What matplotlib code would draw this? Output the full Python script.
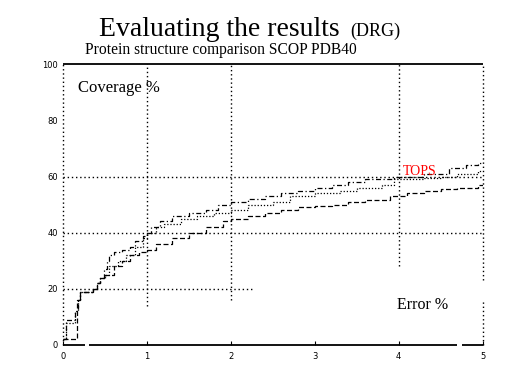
import matplotlib
matplotlib.use('Agg')
import matplotlib.pyplot as plt
import numpy as np

# error % (x) and coverage % (y) for the three methods
x_top = [0, 0.03, 0.14, 0.17, 0.2, 0.36, 0.4, 0.44, 0.48, 0.52, 0.55, 0.6, 0.7, 0.8, 0.85, 0.95, 1.0,
         1.05, 1.15, 1.3, 1.5, 1.7, 1.85, 2.0, 2.2, 2.4, 2.6, 2.8, 3.0, 3.2, 3.4, 3.6, 3.95, 4.3, 4.6, 4.8, 4.95, 5.0]
y_top = [2, 9, 12, 16, 19, 20, 22, 24, 27, 30, 32, 33, 34, 35, 37, 39, 40,
         42, 44, 46, 47, 48, 50, 51, 52, 53, 54, 55, 56, 57, 58, 59, 60, 61, 63, 64, 65, 65]

x_mid = [0, 0.03, 0.14, 0.17, 0.2, 0.36, 0.4, 0.44, 0.5, 0.55, 0.65, 0.75, 0.85, 0.95, 1.0,
         1.1, 1.2, 1.4, 1.6, 1.8, 2.0, 2.2, 2.5, 2.7, 3.0, 3.3, 3.5, 3.8, 3.95, 4.3, 4.5, 4.7, 4.95, 5.0]
y_mid = [2, 8, 12, 16, 19, 20, 22, 24, 25, 28, 30, 32, 35, 38, 40,
         42, 43, 45, 46, 47, 48, 50, 51, 53, 54, 55, 56, 57, 59, 59.5, 60, 61, 62, 62]

x_bot = [0, 0.16, 0.2, 0.36, 0.4, 0.44, 0.5, 0.6, 0.7, 0.8, 0.9, 1.0,
         1.1, 1.3, 1.5, 1.7, 1.9, 2.0, 2.2, 2.4, 2.6, 2.8, 3.0, 3.2, 3.4, 3.6, 3.9, 4.1, 4.3, 4.5, 4.7, 4.95, 5.0]
y_bot = [2, 16, 19, 20, 22, 24, 25, 28, 30, 32, 33, 34,
         36, 38, 40, 42, 44, 45, 46, 47, 48, 49, 49.5, 50, 51, 51.5, 53, 54, 55, 55.5, 56, 57, 57]

xticks = [0, 1, 2, 3, 4, 5]
yticks = [0, 20, 40, 60, 80, 100]

fig = plt.figure(figsize=(5.12, 3.84), dpi=100)
ax = fig.add_axes([0.1236, 0.1016, 0.8188, 0.731])

dot = (0, (1, 2))
ax.plot(x_top, y_top, color='k', lw=0.9, ls=(0, (4, 2, 1, 2)), drawstyle='steps-post')
ax.plot(x_mid, y_mid, color='k', lw=0.9, ls=(0, (1, 1.5)), drawstyle='steps-post')
ax.plot(x_bot, y_bot, color='k', lw=0.9, ls=(0, (4, 2)), drawstyle='steps-post')

# grid (partly hidden in the original slide)
ax.hlines([40, 60], 0, 5, colors='k', linestyles=dot, lw=1)
ax.hlines(20, 0, 2.28, colors='k', linestyles=dot, lw=1)
ax.vlines(1, 14, 100, colors='k', linestyles=dot, lw=1)
ax.vlines(2, 16, 100, colors='k', linestyles=dot, lw=1)
ax.vlines(4, 28, 100, colors='k', linestyles=dot, lw=1)
ax.vlines(0, 0, 100, colors='k', linestyles=dot, lw=1, clip_on=False)
ax.vlines(5, 23, 100, colors='k', linestyles=dot, lw=1, clip_on=False)
ax.vlines(5, 0, 16, colors='k', linestyles=dot, lw=1, clip_on=False)
ax.hlines(100, 0, 5, colors='k', lw=1.3, clip_on=False)
ax.hlines(0, 0, 0.26, colors='k', lw=1.3, clip_on=False)
ax.hlines(0, 0.31, 4.69, colors='k', lw=1.3, clip_on=False)
ax.hlines(0, 4.75, 5, colors='k', lw=1.3, clip_on=False)

for s in ax.spines.values():
    s.set_visible(False)
ax.set_xlim(0, 5)
ax.set_ylim(0, 100)
ax.set_xticks(xticks)
ax.set_xticklabels([str(t) for t in xticks])
ax.set_yticks(yticks)
ax.set_yticklabels([str(t) for t in yticks])
ax.tick_params(axis='x', direction='in', length=3, labelsize=6, pad=5)
ax.tick_params(axis='y', length=0, labelsize=6, pad=4)

ax.text(0.175, 90.2, 'Coverage %', family='Liberation Serif', fontsize=12)
ax.text(3.98, 12.7, 'Error %', family='Liberation Serif', fontsize=11.5)
ax.text(4.05, 60.6, 'TOPS', family='Liberation Serif', fontsize=10, color='red')

fig.text(0.194, 0.906, 'Evaluating the results', family='Liberation Serif', fontsize=20)
fig.text(0.684, 0.906, '(DRG)', family='Liberation Serif', fontsize=13)
fig.text(0.166, 0.859, 'Protein structure comparison SCOP PDB40', family='Liberation Serif', fontsize=11.2)

fig.savefig('out.png', dpi=100)
